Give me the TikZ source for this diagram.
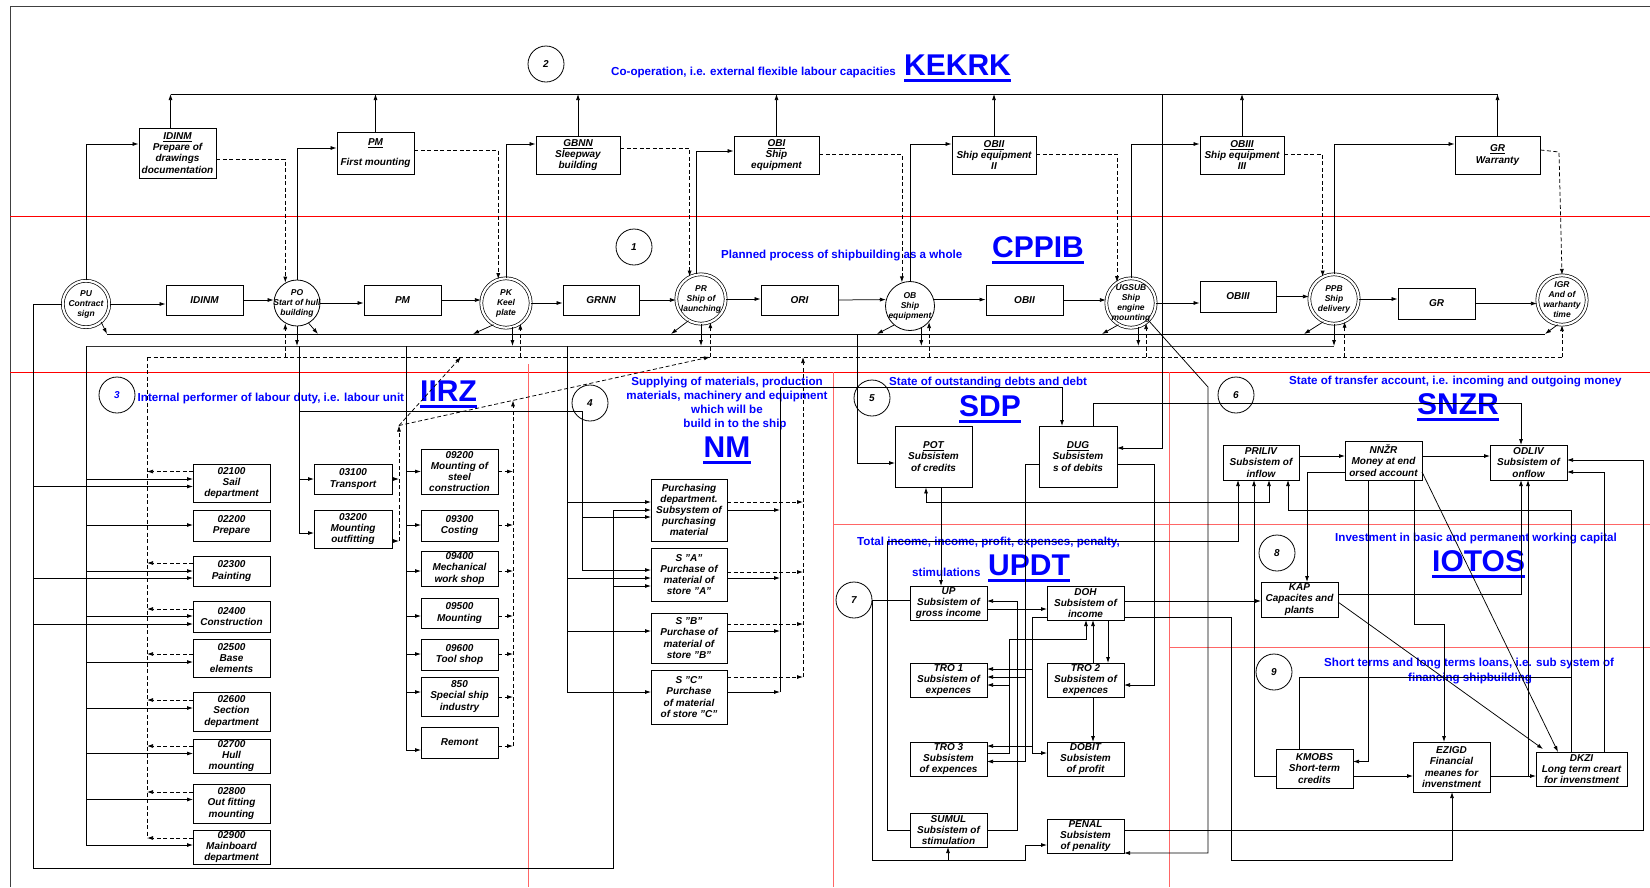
\documentclass[tikz,border=0pt]{standalone}
\usepackage{fontspec}
\setmainfont{Liberation Sans}
\usetikzlibrary{arrows.meta}
\newcommand\bxf{\fontsize{10}{11.2}\selectfont\bfseries\itshape}
\newcommand\cirf{\fontsize{8.5}{10}\selectfont\bfseries\itshape}
\newcommand\bluef{\fontsize{11.6}{13.5}\selectfont\bfseries}
\newcommand\bigf{\fontsize{30}{32}\selectfont\bfseries}
\newcommand\bx[6]{\node[bx,minimum width={#4-#2},minimum height={#5-#3}] (#1) at ({(#2+#4)/2},{(#3+#5)/2}) {#6};}
\begin{document}
\begin{tikzpicture}[x=1pt,y=-1pt,
  ln/.style={line width=0.75pt},
  ar/.style={line width=0.75pt,-{Latex[length=6pt,width=4pt]}},
  ar2/.style={line width=0.75pt,{Latex[length=6pt,width=4pt]}-{Latex[length=6pt,width=4pt]}},
  ds/.style={line width=0.75pt,dash pattern=on 4pt off 2.5pt},
  dsar/.style={ds,-{Latex[length=6pt,width=4pt]}},
  bx/.style={draw,line width=0.9pt,inner sep=0pt,align=center,font=\bxf},
  sc/.style={circle,draw,line width=0.8pt,inner sep=0pt},
  dc/.style={circle,draw,line width=0.7pt,double,double distance=2.2pt,inner sep=0pt,minimum size=49.4pt},
  ct/.style={align=center,font=\cirf,inner sep=0pt},
  nc/.style={circle,draw,line width=0.8pt,minimum size=36pt,inner sep=0pt,font=\fontsize{10}{12}\selectfont\bfseries\itshape},
  bt/.style={anchor=base west,inner sep=0pt,text=blue,font=\bluef},
  bg/.style={anchor=base west,inner sep=0pt,text=blue,font=\bigf},
  ul/.style={blue,line width=3pt},
  rd/.style={red,line width=0.9pt},
  rl/.style={red!60,line width=0.9pt},
]
\useasboundingbox (0,0) rectangle (1650,887);
% frame and red lines
\draw[line width=1pt,black!75] (10,887) -- (10,6) -- (1650,6);
\draw[rd] (10,216) -- (1650,216);
\draw[rd] (10,372) -- (1650,372);
\draw[rl] (528,364) -- (528,887);
\draw[rl] (833,372) -- (833,887);
\draw[rl] (1169,372) -- (1169,887);
\draw[rl] (833,524) -- (1650,524);
\draw[rl] (1169,647) -- (1650,647);

% numbered circles
\node[nc] (n1) at (634,247) {1};
\node[nc] (n2) at (546,64) {2};
\node[nc] (n3) at (117,395) {\textcolor{blue}{3}};
\node[nc] (n4) at (590,403) {4};
\node[nc] (n5) at (872,398) {5};
\node[nc] (n6) at (1236,395) {6};
\node[nc] (n7) at (854,600) {7};
\node[nc] (n8) at (1277,553) {8};
\node[nc] (n9) at (1274,672) {9};

% blue titles
\node[bt] at (611,75) {Co-operation, i.e. external flexible labour capacities};
\node[bg] (KEKRK) at (904,75) {KEKRK};
\node[bt] at (721,258) {Planned process of shipbuilding as a whole};
\node[bg] (CPPIB) at (992,257) {CPPIB};
\node[bt] at (137.5,401) {Internal performer of labour duty, i.e. labour unit};
\node[bg] (IIRZ) at (420,401) {IIRZ};
\node[bt,anchor=base] at (727,385) {Supplying of materials, production};
\node[bt,anchor=base] at (727,399) {materials, machinery and equipment};
\node[bt,anchor=base] at (727,413) {which will be};
\node[bt,anchor=base] at (735,427) {build in to the ship};
\node[bg,anchor=base] (NM) at (727,457) {NM};
\node[bt] at (889,385) {State of outstanding debts and debt};
\node[bg] (SDP) at (959,416) {SDP};
\node[bt] at (857,545) {Total income, income, profit, expenses, penalty,};
\node[bt] at (912,576) {stimulations};
\node[bg] (UPDT) at (988,575) {UPDT};
\node[bt] at (1289,384) {State of transfer account, i.e. incoming and outgoing money};
\node[bg] (SNZR) at (1417,414) {SNZR};
\node[bt] at (1335,541) {Investment in basic and permanent working capital};
\node[bg] (IOTOS) at (1432,571) {IOTOS};
\node[bt] at (1324,666) {Short terms and long terms loans, i.e. sub system of};
\node[bt] at (1408,681) {financing shipbuilding};
\foreach \n in {KEKRK,CPPIB,IIRZ,NM,SDP,UPDT,SNZR,IOTOS}
  \draw[ul] ([yshift=-5pt]\n.base west) -- ([yshift=-5pt]\n.base east);

% top boxes
\bx{tIDINM}{139}{128}{216}{178}{\underline{IDINM}\\Prepare of\\drawings\\documentation}
\bx{tPM}{337}{132}{414}{174}{\underline{PM}\\[9pt]First mounting}
\bx{tGBNN}{536}{136}{620}{174}{\underline{GBNN}\\Sleepway\\building}
\bx{tOBI}{734}{136}{819}{174}{\underline{OBI}\\Ship\\equipment}
\bx{tOBII}{952}{136}{1036}{174}{\underline{OBII}\\Ship equipment\\II}
\bx{tOBIII}{1200}{136}{1284}{174}{\underline{OBIII}\\Ship equipment\\III}
\bx{tGR}{1455}{136}{1540}{174}{\underline{GR}\\Warranty}

% process row
\node[dc,minimum size=46.4pt] (PU) at (86,304) {};
\node[ct] at (PU) {PU\\Contract\\sign};
\node[sc,minimum size=46pt] (PO) at (297,303) {};
\node[ct] at (PO) {PO\\Start of hull\\building};
\node[dc] (PK) at (506,303) {};
\node[ct] at (PK) {PK\\Keel\\plate};
\node[dc] (PR) at (701,299) {};
\node[ct] at (PR) {PR\\Ship of\\launching};
\node[sc,minimum size=49pt] (OB) at (910,306) {};
\node[ct] at (OB) {OB\\Ship\\equipment};
\node[dc] (UG) at (1131,303) {};
\node[ct] at (UG) {UGSUB\\Ship\\engine\\mounting};
\node[dc] (PPB) at (1334,299) {};
\node[ct] at (PPB) {PPB\\Ship\\delivery};
\node[dc] (IGR) at (1562,300) {};
\node[ct] at (IGR) {IGR\\And of\\warhanty\\time};
\bx{pIDINM}{166}{285}{243}{315}{IDINM}
\bx{pPM}{364}{285}{441}{315}{PM}
\bx{pGRNN}{563}{285}{639}{315}{GRNN}
\bx{pORI}{761}{285}{838}{315}{ORI}
\bx{pOBII}{986}{285}{1063}{315}{OBII}
\bx{pOBIII}{1200}{281}{1276}{312}{OBIII}
\bx{pGR}{1398}{288}{1475}{319}{GR}

\draw[ar] (PU.east) -- (pIDINM.west |- PU.east);
\draw[ar] (pIDINM.east) -- (PO.west |- pIDINM.east);
\draw[ar] (PO.east) -- (pPM.west |- PO.east);
\draw[ar] (pPM.east) -- (PK.west |- pPM.east);
\draw[ar] (PK.east) -- (pGRNN.west |- PK.east);
\draw[ar] (pGRNN.east) -- (PR.west |- pGRNN.east);
\draw[ar] (PR.east) -- (pORI.west |- PR.east);
\draw[ar] (pORI.east) -- (OB.165);
\draw[ar] (OB.15) -- (pOBII.west |- OB.15);
\draw[ar] (pOBII.east) -- (UG.west |- pOBII.east);
\draw[ar] (UG.east) -- (pOBIII.west |- UG.east);
\draw[ar] (pOBIII.east) -- (PPB.west |- pOBIII.east);
\draw[ar] (PPB.east) -- (pGR.west |- PPB.east);
\draw[ar] (pGR.east) -- (IGR.west |- pGR.east);

% top bus
\coordinate (busT) at (0,94);
\draw[ln] ([xshift=-7pt]tIDINM.north |- busT) -- (tGR.north |- busT);
\draw[ar] ([xshift=-7pt]tIDINM.north) -- ([xshift=-7pt]tIDINM.north |- busT);
\foreach \n in {tPM,tGBNN,tOBI,tOBII,tOBIII,tGR}
  \draw[ar] (\n.north) -- (\n.north |- busT);

% circles up to top boxes
\draw[ar] (PU.north) |- ([yshift=9pt]tIDINM.west);
\draw[ar] (PO.north) |- ([yshift=5pt]tPM.west);
\draw[ar] (PK.north) |- ([yshift=11pt]tGBNN.west);
\draw[ar] (PR.100) |- ([yshift=4pt]tOBI.west);
\draw[ar] (OB.north) |- ([yshift=11pt]tOBII.west);
\draw[ar] (UG.north) |- ([yshift=11pt]tOBIII.west);
\draw[ar] (PPB.north) |- ([yshift=11pt]tGR.west);
% dashed from top boxes to next circles
\draw[dsar] ([yshift=-6pt]tIDINM.east) -| (PO.120);
\draw[dsar] ([yshift=3pt]tPM.east) -| (PK.108);
\draw[dsar] ([yshift=7pt]tGBNN.east) -| (PR.117);
\draw[dsar] ([yshift=1pt]tOBI.east) -| (OB.109);
\draw[dsar] ([yshift=1pt]tOBII.east) -| (UG.124);
\draw[dsar] ([yshift=1pt]tOBIII.east) -| (PPB.117);
\draw[dsar] ([yshift=5pt]tGR.east) -- (1559,152) -- (IGR.north);

% buses below the process row
\coordinate (sb) at (0,334);
\coordinate (gb) at (0,346);
\coordinate (db) at (0,357);
\draw[ln] (107,334) -- (1545,334);
\draw[ln,black!80] (86,346) -- (1334,346);
\draw[ds] (147,357) -- (1562,357);
\draw[ar] (PU.-50) -- (107,334);
\draw[ar] (PO.-60) -- (318,334);
\draw[ar] (PK.-120) -- (473,334);
\draw[ar] (PR.-120) -- (671,334);
\draw[ar] (OB.-130) -- (877,334);
\draw[ar] (UG.-120) -- (1102,334);
\draw[ar] (PPB.-115) -- (1304,334);
\draw[ar] (IGR.-100) -- (1545,334);
\draw[ar] (PO.south) -- (PO.south |- gb);
\draw[ar] (PK.-75) -- (PK.-75 |- gb);
\draw[ar] (PR.south) -- (PR.south |- gb);
\draw[ar] (OB.-63) -- (OB.-63 |- gb);
\draw[ar] (UG.-73) -- (UG.-73 |- gb);
\draw[ar] (PPB.south) -- (PPB.south |- gb);
\draw[dsar] (PO.-120 |- db) -- (PO.-120);
\draw[dsar] (PK.-55 |- db) -- (PK.-55);
\draw[dsar] (PR.-68 |- db) -- (PR.-68);
\draw[dsar] (OB.-40 |- db) -- (OB.-40);
\draw[dsar] (UG.-53 |- db) -- (UG.-53);
\draw[dsar] (PPB.-65 |- db) -- (PPB.-65);
\draw[dsar] (IGR.south |- db) -- (IGR.south);

% section 3 boxes
\bx{b21}{193}{464}{270}{502}{02100\\Sail\\department}
\bx{b22}{193}{510}{270}{541}{02200\\Prepare}
\bx{b23}{193}{556}{270}{586}{02300\\Painting}
\bx{b24}{193}{601}{270}{632}{02400\\Construction}
\bx{b25}{193}{639}{270}{677}{02500\\Base\\elements}
\bx{b26}{193}{692}{270}{731}{02600\\Section\\department}
\bx{b27}{193}{739}{270}{773}{02700\\Hull\\mounting}
\bx{b28}{193}{784}{270}{823}{02800\\Out fitting\\mounting}
\bx{b29}{193}{830}{270}{864}{02900\\Mainboard\\department}
\bx{b31}{314}{464}{392}{494}{03100\\Transport}
\bx{b32}{314}{510}{392}{548}{03200\\Mounting\\outfitting}
\bx{b92}{421}{449}{498}{494}{09200\\Mounting of\\steel\\construction}
\bx{b93}{421}{510}{498}{541}{09300\\Costing}
\bx{b94}{421}{551}{498}{586}{09400\\Mechanical\\work shop}
\bx{b95}{421}{598}{498}{628}{09500\\Mounting}
\bx{b96}{421}{639}{498}{670}{09600\\Tool shop}
\bx{b850}{421}{677}{498}{716}{850\\Special ship\\industry}
\bx{brem}{421}{727}{498}{758}{Remont}

\draw[ar] (PU.west) -| (33,868) -| (613,510) -- (651,510);
\draw[ar] (613,586) -- (651,586);
\foreach \y in {486.5,578,624} \draw[ar] (33,\y) -- (193,\y);
\draw[ar] (86,346) -- (86,845) -- (193,845);
\foreach \y in {479,525,571,616,662,708,753.5,799.5} \draw[ar] (86,\y) -- (193,\y);
\draw[ds] (147,357) -- (147,838);
\foreach \y in {471.5,563,609,654,700,746,792,838} \draw[dsar] (193,\y) -- (147,\y);
\draw[ar] (299,346) -- (299,533) -- (314,533);
\draw[ar] (299,479) -- (314,479);
\draw[dsar] (392,479) -- (399,479);
\draw[dsar] (392,541) -- (399,541);
\draw[dsar] (399,541) -- (399,425.5);
\draw[dsar] (399,425.5) -- (461,357);
\draw[dsar] (399,425.5) -- (710,357);
\draw[ar] (406,346) -- (406,750) -- (421,750);
\foreach \y in {471.5,525,571,616,654,692} \draw[ar] (406,\y) -- (421,\y);
\draw[dsar] (513,746) -- (513,400.4);
\foreach \y in {471.5,525,571,616,654,697,746} \draw[dsar] (498,\y) -- (513,\y);

% NM section
\bx{nPU}{651}{479}{727}{541}{Purchasing\\department.\\Subsystem of\\purchasing\\material}
\bx{nSA}{651}{548}{727}{601}{S "A"\\Purchase of\\material of\\store "A"}
\bx{nSB}{651}{613}{727}{663}{S "B"\\Purchase of\\material of\\store "B"}
\bx{nSC}{651}{670}{727}{724}{S "C"\\Purchase\\of material\\of store "C"}
\draw[ln] (299,411) -- (582,411) -- (582,570);
\draw[ar] (582,517) -- (651,517);
\draw[ar] (582,570) -- (651,570);
\draw[ln] (567,346) -- (567,692);
\foreach \y in {502,578,631,692} \draw[ar] (567,\y) -- (651,\y);
\foreach \y in {510,578,631,692} \draw[ar] (727,\y) -- (780,\y);
\foreach \y in {502,572,624,677} \draw[dsar] (727,\y) -- (803,\y);
\draw[dsar] (803,677) -- (803,357);

% SDP
\bx{POT}{895}{426}{972}{487}{\underline{POT}\\Subsistem\\of credits}
\bx{DUG}{1039}{426}{1117}{487}{\underline{DUG}\\Subsistem\\s of debits}
\draw[ar] (780,692) |- (1062,387) -- (1062,426);
\draw[ar] (857,334) -- (857,463) -- (895,463);
\draw[ar] (1162,94) -- (1162,448) -- (1117,448);
\draw[ar] ([xshift=7.5pt]POT.south) -- ([xshift=7.5pt]POT.south |- 0,586);
\draw[ar2] ([xshift=-7.5pt]POT.south) |- (1269,502) -- (1269,480);
\draw[ar] (1093,426) |- (1521,403) -- (1521,445);
\draw[ar] (1039,464) -| (1025,761.5) -- (987,761.5);
\draw[ar] (1025,677) -- (987,677);
\draw[ar] (1117,464) -| (1154,685) -- (1124,685);

% UPDT
\bx{UP}{910}{586}{987}{620}{UP\\Subsistem of\\gross income}
\bx{DOH}{1047}{586}{1124}{620}{DOH\\Subsistem of\\income}
\bx{TRO1}{910}{663}{987}{697}{TRO 1\\Subsistem of\\expences}
\bx{TRO2}{1047}{663}{1124}{697}{TRO 2\\Subsistem of\\expences}
\bx{TRO3}{910}{742}{987}{776}{TRO 3\\Subsistem\\of expences}
\bx{DOBIT}{1047}{742}{1124}{776}{DOBIT\\Subsistem\\of profit}
\bx{SUMUL}{910}{813}{987}{847}{SUMUL\\Subsistem of\\stimulation}
\bx{PENAL}{1047}{819}{1124}{853}{PENAL\\Subsistem\\of penality}
\draw[ln] (n7.east) -- (910,600);
\draw[ar] (872,600) -- (872,860) -- (1025,860) -- (1025,845) -- (1047,845);
\draw[ar] (948,860) -- (948,847);
\draw[ar] (987,609) -- (1047,609);
\draw[ar] (987,830) -| (1017,601) -- (987,601);
\draw[ar] (910,830) -| (887,541) -| (1238,480);
\draw[ar] (1047,617) -| (1032,753) -- (1047,753);
\draw[ar] (1032,669) -- (987,669);
\draw[ar] (1032,746) -- (987,746);
\draw[ar] (987,753) -| (1009,639) -| (1086,620);
\draw[ar] (1009,685) -- (987,685);
\draw[ar] (1093,663) -- (1093,620);
\draw[ar] (1108,620) -- (1108,663);
\draw[ar] (1093,697) -- (1093,742);
\draw[ar] (1124,601) -- (1261,601);
\draw[ar] (1124,617) -| (1231,860) -| (1452,792);
\draw[ar] (1124,830) -| (1643,460) -- (1567,460);
\draw[ar] (UG.-45) -- (1208,387) -- (1208,853) -- (1124,853);

% SNZR, IOTOS, loans
\bx{PRIL}{1223}{445}{1299}{480}{PRILIV\\Subsistem of\\inflow}
\bx{NNZR}{1345}{441}{1422}{480}{NNŽR\\Money at end\\orsed account}
\bx{ODL}{1490}{445}{1567}{480}{ODLIV\\Subsistem of\\onflow}
\bx{KAP}{1261}{582}{1338}{617}{KAP\\Capacites and\\plants}
\bx{KMOBS}{1276}{749}{1353}{788}{KMOBS\\Short-term\\credits}
\bx{EZIGD}{1413}{742}{1490}{792}{EZIGD\\Financial\\meanes for\\invenstment}
\bx{DKZI}{1536}{752}{1627}{786}{DKZI\\Long term creart\\for invenstment}
\draw[ar] (1299,456) -- (1345,456);
\draw[ar] (1422,456) -- (1490,456);
\draw[ar] (1345,472) -| (1307,582);
\draw[ar] (1368,480) |- (1353,761.5);
\draw[ar] (1414,480) |- (1444,624) -- (1444,742);
\draw[ar] (1422,472) -- (1558,752);
\draw[ar] (1276,776) -| (1254,480);
\draw[ar] (1571,752) |- (1288,510) -- (1288,480);
\draw[ln] (1299,749) |- (1571,677);
\draw[ar] (1604,752) |- (1567,472);
\draw[ar] (1338,594) -| (1521,480);
\draw[ar] (1338,602) -- (1543,749);
\draw[ar] (1490,776) -- (1536,776);
\draw[ar] (1353,776) -- (1413,776);
\draw[ar] (1528,776) -- (1528,480);
\end{tikzpicture}
\end{document}
